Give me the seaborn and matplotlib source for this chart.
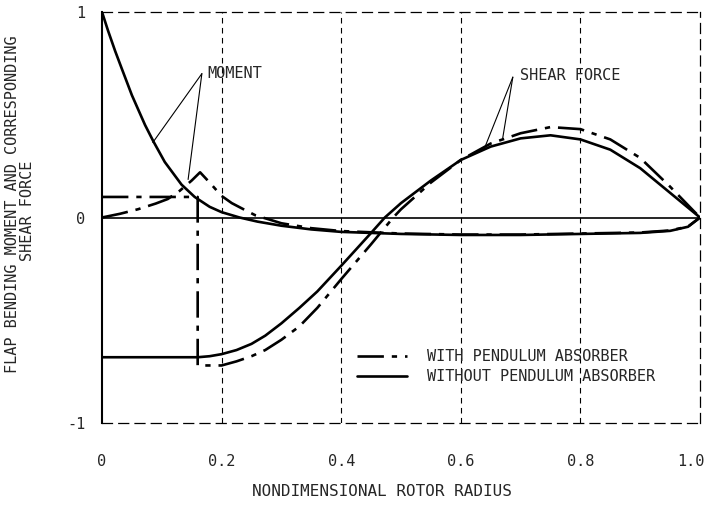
import matplotlib
matplotlib.use("Agg")
import matplotlib.pyplot as plt
from matplotlib.lines import Line2D
from matplotlib.transforms import ScaledTranslation
import seaborn as sns
import pandas as pd

# ---- data ----
moment_without_x = [0.0, 0.01, 0.022, 0.033, 0.05, 0.072, 0.086, 0.105, 0.133, 0.155, 0.18, 0.20,
                    0.23, 0.26, 0.30, 0.35, 0.40, 0.50, 0.60, 0.70, 0.80, 0.90, 0.95, 0.98, 1.0]
moment_without_y = [1.0, 0.91, 0.81, 0.725, 0.595, 0.45, 0.37, 0.27, 0.16, 0.10, 0.052, 0.026,
                    0.0, -0.02, -0.04, -0.058, -0.07, -0.08, -0.085, -0.085, -0.08, -0.075, -0.065, -0.045, 0.0]

moment_with_x = [0.0, 0.03, 0.06, 0.09, 0.11, 0.13, 0.15, 0.164, 0.18, 0.20, 0.217, 0.24, 0.257,
                 0.28, 0.30, 0.35, 0.40, 0.50, 0.60, 0.70, 0.80, 0.90, 0.95, 0.98, 1.0]
moment_with_y = [0.0, 0.018, 0.04, 0.068, 0.09, 0.13, 0.18, 0.22, 0.17, 0.105, 0.07, 0.035, 0.01,
                 -0.01, -0.028, -0.052, -0.066, -0.078, -0.083, -0.083, -0.078, -0.073, -0.063, -0.044, 0.0]

shear_without_x = [0.0, 0.16, 0.18, 0.20, 0.225, 0.25, 0.273, 0.30, 0.33, 0.36, 0.40, 0.45, 0.473, 0.50,
                   0.55, 0.60, 0.65, 0.70, 0.75, 0.80, 0.85, 0.90, 0.95, 1.0]
shear_without_y = [-0.68, -0.68, -0.675, -0.665, -0.645, -0.615, -0.575, -0.515, -0.44, -0.36, -0.235,
                   -0.075, 0.0, 0.07, 0.18, 0.28, 0.345, 0.385, 0.40, 0.38, 0.33, 0.24, 0.12, 0.0]

shear_with_x = [0.0, 0.16, 0.16, 0.20, 0.225, 0.25, 0.273, 0.30, 0.33, 0.36, 0.40, 0.45, 0.487, 0.50,
                0.55, 0.60, 0.65, 0.70, 0.75, 0.80, 0.85, 0.90, 0.95, 1.0]
shear_with_y = [0.1, 0.1, -0.72, -0.72, -0.70, -0.675, -0.645, -0.595, -0.53, -0.44, -0.30, -0.13, 0.0,
                0.04, 0.17, 0.28, 0.36, 0.41, 0.44, 0.43, 0.38, 0.29, 0.15, 0.0]

x_ticks = [0, 0.2, 0.4, 0.6, 0.8, 1.0]
x_tick_labels = ["0", "0.2", "0.4", "0.6", "0.8", "1.0"]
y_ticks = [-1, 0, 1]
y_tick_labels = ["-1", "0", "1"]

legend_labels = ["WITH PENDULUM ABSORBER", "WITHOUT PENDULUM ABSORBER"]

sns.set_style("white")
plt.rcParams["font.family"] = ["DejaVu Sans Mono", "DejaVu Sans"]

DASHDOT = (0, (10, 3, 2, 3))
LW = 1.9

fig = plt.figure(figsize=(7.12, 5.05), dpi=100)
ax = fig.add_axes([102 / 712, 82 / 505, 598 / 712, 411 / 505])

curves = [
    (moment_without_x, moment_without_y, "-"),
    (moment_with_x, moment_with_y, DASHDOT),
    (shear_without_x, shear_without_y, "-"),
    (shear_with_x, shear_with_y, DASHDOT),
]
for xs, ys, ls in curves:
    df = pd.DataFrame({"x": xs, "y": ys})
    sns.lineplot(data=df, x="x", y="y", sort=False, estimator=None, color="black",
                 linewidth=LW, linestyle=ls, ax=ax)

ax.axhline(0, color="black", lw=1.2, zorder=1)

ax.set_xlim(0, 1.0)
ax.set_ylim(-1, 1)
ax.set_xticks(x_ticks)
ax.set_xticklabels(x_tick_labels)
ax.set_yticks(y_ticks)
ax.set_yticklabels(y_tick_labels)
ax.tick_params(axis="x", length=0, pad=22, labelsize=11)
ax.tick_params(axis="y", length=0, pad=12, labelsize=11)
ax.set_xlabel("")
ax.set_ylabel("")
last = ax.get_xticklabels()[-1]
last.set_transform(last.get_transform() + ScaledTranslation(-9 / 100, 0, fig.dpi_scale_trans))

ax.grid(False)
for xv in x_ticks[1:-1]:
    ax.axvline(xv, color="black", lw=0.8, linestyle=(0, (5, 4)), zorder=0)

for side in ["top", "right", "bottom"]:
    ax.spines[side].set_visible(True)
    ax.spines[side].set_color("black")
    ax.spines[side].set_linewidth(0.9)
    ax.spines[side].set_linestyle((0, (8, 5)))
ax.spines["left"].set_color("black")
ax.spines["left"].set_linewidth(1.5)

# annotations with leader lines
ax.text(0.176, 0.70, "MOMENT", fontsize=11, va="center", ha="left")
ax.plot([0.167, 0.085], [0.70, 0.365], color="black", lw=0.8)
ax.plot([0.167, 0.144], [0.70, 0.185], color="black", lw=0.8)

ax.text(0.699, 0.69, "SHEAR FORCE", fontsize=11, va="center", ha="left")
ax.plot([0.687, 0.64], [0.683, 0.34], color="black", lw=0.8)
ax.plot([0.687, 0.67], [0.683, 0.385], color="black", lw=0.8)

handles = [Line2D([0], [0], color="black", lw=LW, linestyle=DASHDOT),
           Line2D([0], [0], color="black", lw=LW, linestyle="-")]
ax.legend(handles, legend_labels, loc="upper left", bbox_to_anchor=(0.426, 0.18),
          frameon=False, borderpad=0, borderaxespad=0, handlelength=3.3,
          handletextpad=1.3, labelspacing=0.35, fontsize=11)

fig.text(13 / 712, 1 - 204 / 505, "FLAP BENDING MOMENT AND CORRESPONDING", rotation=90,
         ha="center", va="center", fontsize=11)
fig.text(28 / 712, 1 - 211 / 505, "SHEAR FORCE", rotation=90, ha="center", va="center", fontsize=11)
fig.text(382 / 712, 1 - 492 / 505, "NONDIMENSIONAL ROTOR RADIUS", ha="center", va="center", fontsize=11.5)

fig.savefig("out.png", dpi=100)
